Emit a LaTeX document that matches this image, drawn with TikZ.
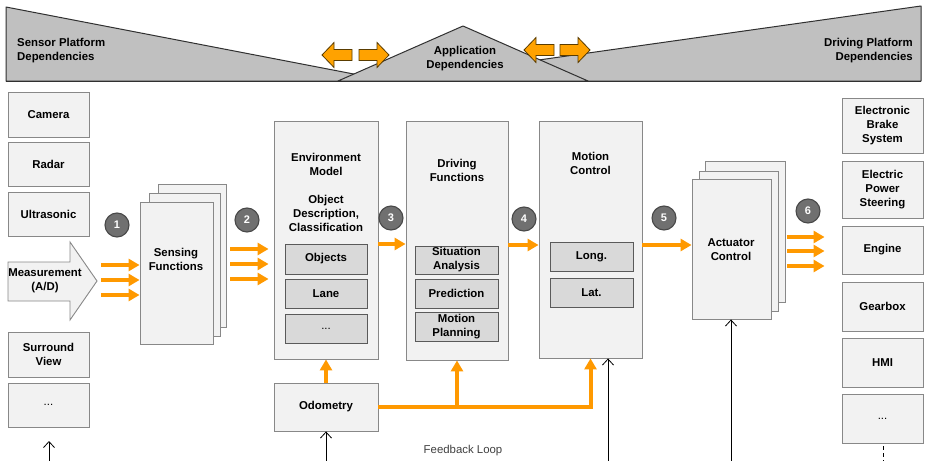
\documentclass[tikz,border=0pt]{standalone}
\usepackage{fontspec}
\setmainfont{Liberation Sans}
\usetikzlibrary{arrows.meta}
\definecolor{org}{HTML}{FF9900}
\definecolor{orgfill}{HTML}{FFA200}
\definecolor{orgline}{HTML}{5A3C00}
\definecolor{boxline}{HTML}{888888}
\definecolor{boxfill}{HTML}{F2F2F2}
\definecolor{subline}{HTML}{5A5A5A}
\definecolor{subfill}{HTML}{D9D9D9}
\definecolor{bandfill}{HTML}{C0C0C0}
\definecolor{bandline}{HTML}{303030}
\definecolor{numfill}{HTML}{707070}
\definecolor{numline}{HTML}{484848}
\definecolor{fbtext}{HTML}{404040}
\tikzset{
  box/.style={draw=boxline, fill=boxfill, line width=0.9pt, inner sep=0pt, align=center},
  sub/.style={draw=subline, fill=subfill, line width=0.9pt, inner sep=0pt, align=center},
  ttl/.style={inner sep=0pt, align=center},
  num/.style={circle, draw=numline, fill=numfill, text=white, minimum size=24pt, inner sep=0pt, line width=1.1pt, font=\fontsize{11}{13}\selectfont\bfseries},
  oarr/.style={draw=org, line width=4pt, line join=miter, -{Triangle[length=11pt,width=12pt]}},
  karr/.style={draw=black, line width=0.8pt, -{Straight Barb[length=6pt,width=11pt]}},
  band/.style={fill=bandfill, draw=bandline, line width=1pt, line join=round},
  barrow/.pic={\draw[fill=orgfill, draw=orgline, line width=0.8pt, line join=miter]
     (0,0) -- (12,-12.5) -- (12,-5.5) -- (30,-5.5) -- (30,5.5) -- (12,5.5) -- (12,12.5) -- cycle;}
}
\begin{document}
\begin{tikzpicture}[x=1pt,y=-1pt,font=\fontsize{11.4}{14}\selectfont\bfseries]
\useasboundingbox (0,0) rectangle (925,460);
\fill[white] (0,0) rectangle (925,460);

% ---------- top band ----------
\draw[band] (6,7) -- (6,81) -- (390,81) -- cycle;
\draw[band] (921,6) -- (921,81) -- (390,81) -- cycle;
\draw[band] (338,81) -- (463,26) -- (588,81) -- cycle;
\draw[bandline, line width=1pt] (6,81) -- (921,81);
\node[ttl, align=left, anchor=west] (spd) at (17,51) {Sensor Platform\\Dependencies};
\node[ttl] (apd) at (465,59) {Application\\Dependencies};
\node[ttl, align=right, anchor=east] (dpd) at (913,51) {Driving Platform\\Dependencies};
\pic at (322,55) {barrow};
\pic[xscale=-1] at (389,55) {barrow};
\pic at (524,50) {barrow};
\pic[xscale=-1] at (590,50) {barrow};

% ---------- left column ----------
\node[box, minimum width=81pt, minimum height=45pt] (camera) at (48.5,114.5) {Camera};
\node[box, minimum width=81pt, minimum height=44pt] (radar) at (48.5,164) {Radar};
\node[box, minimum width=81pt, minimum height=44pt] (ultra) at (48.5,214) {Ultrasonic};
\draw[draw=boxline, fill=boxfill, line width=0.9pt, line join=miter]
  (8,262) -- (70,262) -- (70,242) -- (97,281) -- (70,320) -- (70,301) -- (8,301) -- cycle;
\node[ttl] (meas) at (45,281) {Measurement\\(A/D)};
\node[box, minimum width=81pt, minimum height=45pt] (surround) at (48.5,354.5) {Surround\\View};
\node[box, minimum width=81pt, minimum height=44pt] (dotsL) at (48.5,405) {\mdseries ...};

% ---------- sensing functions ----------
\node[box, minimum width=68pt, minimum height=143pt] (sensb) at (192,255.5) {};
\node[box, minimum width=71pt, minimum height=143pt] (sensm) at (184.5,264.5) {};
\node[box, minimum width=73pt, minimum height=142pt] (sensf) at (176.5,273) {};
\node[ttl] (senst) at (176,259) {Sensing\\Functions};

% ---------- environment model ----------
\node[box, minimum width=104pt, minimum height=238pt] (env) at (326,240) {};
\node[ttl] (envt) at (326,192) {Environment\\Model\\[14pt]Object\\Description,\\Classification};
\node[sub, minimum width=82pt, minimum height=30pt] (objects) at (326,259) {Objects};
\node[sub, minimum width=82pt, minimum height=29pt] (lane) at (326,293.5) {Lane};
\node[sub, minimum width=82pt, minimum height=29pt] (envdots) at (326,328.5) {\mdseries ...};

% ---------- driving functions ----------
\node[box, minimum width=102pt, minimum height=239pt] (drive) at (457,240.5) {};
\node[ttl] (drivet) at (457,170) {Driving\\Functions};
\node[sub, minimum width=83pt, minimum height=28pt] (sit) at (456.5,260) {Situation\\Analysis};
\node[sub, minimum width=83pt, minimum height=29pt] (pred) at (456.5,293.5) {Prediction};
\node[sub, minimum width=83pt, minimum height=29pt] (mplan) at (456.5,326.5) {Motion\\Planning};

% ---------- motion control ----------
\node[box, minimum width=103pt, minimum height=237pt] (motion) at (590.5,239.5) {};
\node[ttl] (motiont) at (590.5,163) {Motion\\Control};
\node[sub, minimum width=83pt, minimum height=29pt] (long) at (591.5,256.5) {Long.};
\node[sub, minimum width=83pt, minimum height=29pt] (lat) at (591.5,292.5) {Lat.};

% ---------- actuator control ----------
\node[box, minimum width=80pt, minimum height=141pt] (actb) at (745,231.5) {};
\node[box, minimum width=79pt, minimum height=140pt] (actm) at (738.5,241) {};
\node[box, minimum width=79pt, minimum height=140pt] (actf) at (731.5,249) {};
\node[ttl] (actt) at (731,249.5) {Actuator\\Control};

% ---------- right column ----------
\node[box, minimum width=81pt, minimum height=55pt] (ebs) at (882.5,125.5) {Electronic\\Brake\\System};
\node[box, minimum width=81pt, minimum height=57pt] (eps) at (882.5,189.5) {Electric\\Power\\Steering};
\node[box, minimum width=81pt, minimum height=48pt] (engine) at (882.5,250) {Engine};
\node[box, minimum width=81pt, minimum height=49pt] (gearbox) at (882.5,306.5) {Gearbox};
\node[box, minimum width=81pt, minimum height=49pt] (hmi) at (882.5,362.5) {HMI};
\node[box, minimum width=81pt, minimum height=49pt] (dotsR) at (882.5,418.5) {\mdseries ...};

% ---------- odometry ----------
\node[box, minimum width=104pt, minimum height=48pt] (odo) at (326,407) {Odometry};

% ---------- number circles ----------
\node[num] (n1) at (117,225) {1};
\node[num] (n2) at (247,220) {2};
\node[num] (n3) at (391,218) {3};
\node[num] (n4) at (524,219) {4};
\node[num] (n5) at (664,218) {5};
\node[num] (n6) at (808,211) {6};

% ---------- orange connectors ----------
\coordinate (a1a) at (101,265);
\coordinate (a1b) at (101,280);
\coordinate (a1c) at (101,295);
\foreach \c in {a1a,a1b,a1c} \draw[oarr] (\c) -- (sensf.west |- \c);
\coordinate (a2a) at (230,249);
\coordinate (a2b) at (230,264);
\coordinate (a2c) at (230,279);
\foreach \c in {a2a,a2b,a2c} \draw[oarr, shorten >=5pt] (\c) -- (env.west |- \c);
\coordinate (a3) at (378,244);
\draw[oarr] (env.east |- a3) -- (drive.west |- a3);
\coordinate (a4) at (508,245);
\draw[oarr] (drive.east |- a4) -- (motion.west |- a4);
\coordinate (a5) at (642,245);
\draw[oarr] (motion.east |- a5) -- (actf.west |- a5);
\coordinate (a6a) at (787,237);
\coordinate (a6b) at (787,251);
\coordinate (a6c) at (787,266);
\foreach \c in {a6a,a6b,a6c} \draw[oarr, shorten >=17pt] (\c) -- (engine.west |- \c);

\draw[oarr] (odo.north) -- (env.south);
\draw[oarr] (odo.east) -| (motion.south);
\draw[oarr] (drive.south |- odo.east) -- (drive.south);

% ---------- black feedback arrows ----------
\coordinate (fbL) at (49,462);
\coordinate (fbLt) at (49,441);
\draw[karr] (fbL) -- (fbLt);
\coordinate (fbO) at (326,462);
\draw[karr] (fbO) -- (odo.south);
\coordinate (fbM) at (608,462);
\draw[karr] (fbM) -- (fbM |- motion.south);
\coordinate (fbA) at (731,462);
\draw[karr] (fbA) -- (fbA |- actf.south);
\coordinate (dsh1) at (883,446);
\coordinate (dsh2) at (883,462);
\draw[black, line width=0.8pt, dash pattern=on 4pt off 3pt] (dsh1) -- (dsh2);

\node[ttl, font=\fontsize{11.4}{14}\selectfont, text=fbtext] (fb) at (463,451) {Feedback Loop};
\end{tikzpicture}
\end{document}
